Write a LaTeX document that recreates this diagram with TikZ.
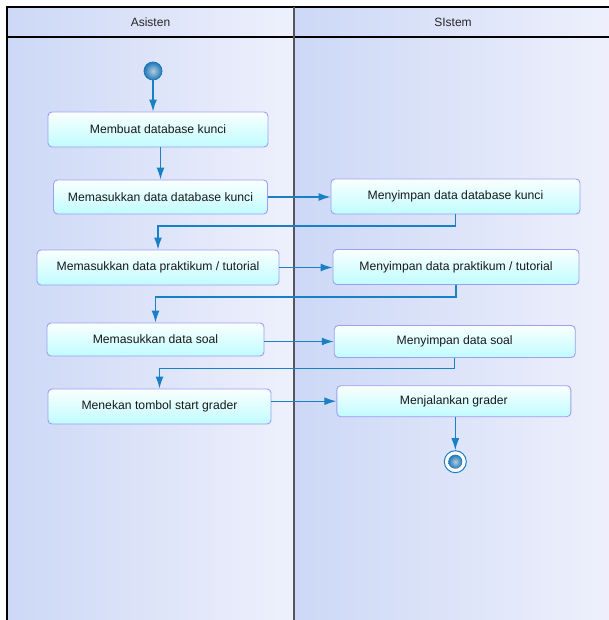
\documentclass[tikz,border=0pt]{standalone}
\usepackage{fontspec}
\setmainfont{Liberation Sans}
\usetikzlibrary{arrows.meta}
\definecolor{lanel}{HTML}{CCD8F6}
\definecolor{laner}{HTML}{EEF0FC}
\definecolor{boxtop}{HTML}{FAFFFF}
\definecolor{boxbot}{HTML}{C0FCFF}
\definecolor{boxline}{HTML}{9E9EF2}
\definecolor{flow}{HTML}{1A80C6}
\definecolor{ballin}{HTML}{B4CCE0}
\definecolor{ballout}{HTML}{1F78B8}
\definecolor{divider}{HTML}{555560}
\tikzset{
  act/.style={rectangle, rounded corners=4pt, draw=boxline, line width=0.9pt,
    top color=boxtop, bottom color=boxbot, inner sep=0pt,
    font=\fontsize{12.2}{14}\selectfont, text=black!90},
  flowline/.style={draw=flow, line width=1.3pt, -{Latex[length=12pt,width=8pt]}},
  lanetitle/.style={font=\fontsize{12}{14}\selectfont, text=black!85},
  ballnode/.style={circle, inner sep=0pt, draw=ballout, line width=0.8pt,
    inner color=ballin, outer color=ballout}
}
\begin{document}
\begin{tikzpicture}[x=1pt,y=-1pt]
\useasboundingbox (0,0) rectangle (609,620);
\clip (0,0) rectangle (609,620);
\fill[white] (0,0) rectangle (609,620);
% lanes
\shade[left color=lanel, right color=laner] (7,7) rectangle (294,625);
\shade[left color=lanel, right color=laner] (294,7) rectangle (612,625);
\draw[black, line width=1.3pt] (7,625) -- (7,7) -- (612,7);
\draw[black, line width=1.2pt] (7,37) -- (612,37);
\draw[divider, line width=1.8pt] (294,7) -- (294,625);
\node[lanetitle] (h1) at (150.5,22) {Asisten};
\node[lanetitle] (h2) at (453,22) {SIstem};
% start / end
\node[ballnode, minimum size=18pt] (start) at (153,71) {};
\node[circle, inner sep=0pt, minimum size=22pt, draw=flow, fill=white, line width=1pt] (end) at (455.3,461.7) {};
\node[ballnode, minimum size=14pt, draw=none] (endball) at (end) {};
% activities
\node[act, minimum width=220pt, minimum height=35pt] (b1) at (158,129.5) {Membuat database kunci};
\node[act, minimum width=214pt, minimum height=34pt] (b2) at (160.5,197) {Memasukkan data database kunci};
\node[act, minimum width=242pt, minimum height=35pt] (b3) at (158,267.5) {Memasukkan data praktikum / tutorial};
\node[act, minimum width=217pt, minimum height=33pt] (b4) at (155.5,339.5) {Memasukkan data soal};
\node[act, minimum width=223pt, minimum height=35pt] (b5) at (159.5,406.5) {Menekan tombol start grader};
\node[act, minimum width=249pt, minimum height=35pt] (r1) at (455.5,196.5) {Menyimpan data database kunci};
\node[act, minimum width=246pt, minimum height=35pt] (r2) at (456,267) {Menyimpan data praktikum / tutorial};
\node[act, minimum width=241pt, minimum height=32pt] (r3) at (454.7,341.5) {Menyimpan data soal};
\node[act, minimum width=234pt, minimum height=31pt] (r4) at (453.8,401.2) {Menjalankan grader};
% bend points
\coordinate (j1) at (300,226);
\coordinate (j2) at (300,297);
\coordinate (j3) at (300,368.5);
% connectors
\draw[flowline] (start) -- (start |- b1.north);
\draw[flowline] (b1.south -| b2.north) -- (b2.north);
\draw[flowline] (b2.east) -- (b2.east -| r1.west);
\draw[flowline] (r1.south) |- (j1) -| (b3.north);
\draw[flowline] (b3.east) -- (b3.east -| r2.west);
\draw[flowline] (r2.south) |- (j2) -| (b4.north);
\draw[flowline] (r3.west -| b4.east) -- (r3.west);
\draw[flowline] (r3.south) |- (j3) -| (b5.north);
\draw[flowline] (r4.west -| b5.east) -- (r4.west);
\draw[flowline] (r4.south -| end) -- (end.north);
\end{tikzpicture}
\end{document}
